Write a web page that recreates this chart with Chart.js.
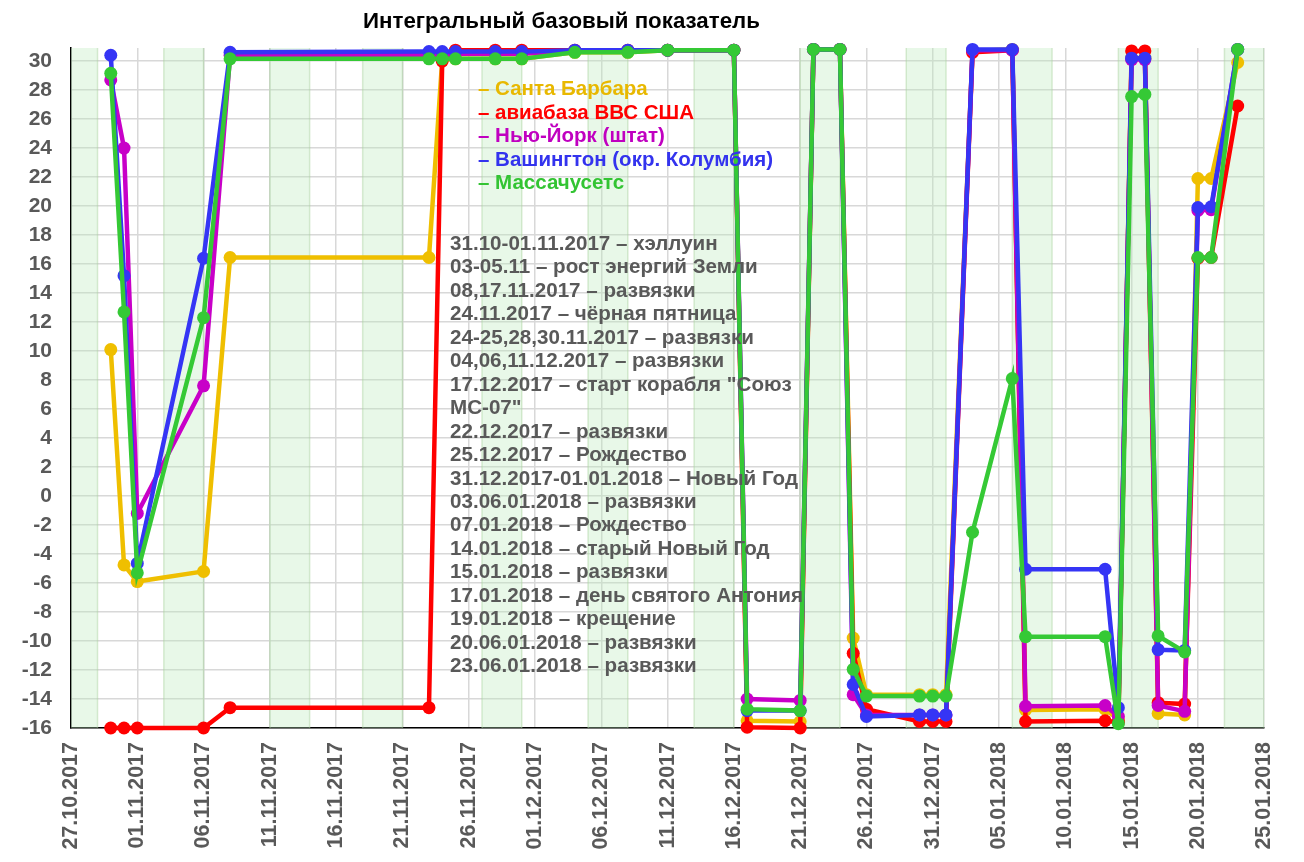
<!DOCTYPE html>
<html>
<head>
  <meta charset="utf-8">
  <title>Интегральный базовый показатель</title>
  <script src="https://cdn.jsdelivr.net/npm/chart.js"></script>
  <style>
    body {
      margin: 0;
      background: #fff;
      font-family: "Liberation Sans", Arial, sans-serif;
    }
    #wrap {
      position: relative;
      width: 1304px;
      height: 862px;
    }
    #title {
      position: absolute;
      left: 363px;
      top: 8px;
      font-size: 22.3px;
      font-weight: bold;
      color: #000;
      white-space: nowrap;
    }
    #legend {
      position: absolute;
      left: 478px;
      top: 76px;
      font-size: 20.5px;
      font-weight: bold;
      line-height: 23.5px;
      white-space: nowrap;
    }
    #notes {
      position: absolute;
      left: 450px;
      top: 231px;
      font-size: 20.6px;
      font-weight: bold;
      line-height: 23.45px;
      color: #595959;
      white-space: nowrap;
    }
  </style>
</head>
<body>
<div id="wrap">
  <canvas id="chart"></canvas>
  <div id="title">Интегральный базовый показатель</div>
  <div id="legend"></div>
  <div id="notes"></div>
</div>

<script>
  // days counted from 27.10.2017
  const days = [3, 4, 5, 10, 12, 27, 28, 29, 32, 34, 38, 42, 45, 50, 51, 55, 56, 58, 59, 60,
                64, 65, 66, 68, 71, 72, 78, 79, 80, 81, 82, 84, 85, 86, 88];

  const santaBarbara = [10.1, -4.75, -5.9, -5.2, 16.45, 16.45, 30.1, 30.15, 30.15, 30.15, 30.6, 30.6, 30.75, 30.75,
                        -15.5, -15.55, 30.8, 30.8, -9.8, -13.7, -13.7, -13.7, -13.7, 30.7, 30.8, -14.75, -14.7,
                        -15.4, 30.2, 30.2, -15.0, -15.1, 21.9, 21.9, 29.9];
  const usafBase = [-16, -16, -16, -16, -14.6, -14.6, 30.0, 30.75, 30.75, 30.75, 30.75, 30.75, 30.75, 30.75,
                    -15.95, -16, 30.8, 30.8, -10.85, -14.7, -15.55, -15.55, -15.55, 30.6, 30.75, -15.55, -15.5,
                    -15.6, 30.7, 30.7, -14.25, -14.35, 16.4, 16.45, 26.9];
  const newYork = [28.7, 24.0, -1.2, 7.6, 30.4, 30.4, 30.4, 30.5, 30.5, 30.5, 30.7, 30.7, 30.75, 30.75,
                   -14.0, -14.1, 30.8, 30.8, -13.7, -15.1, -15.1, -15.1, -15.1, 30.75, 30.75, -14.5, -14.45,
                   -15.2, 30.1, 30.1, -14.45, -14.85, 19.7, 19.75, 30.8];
  const washington = [30.4, 15.2, -4.65, 16.4, 30.6, 30.65, 30.65, 30.65, 30.65, 30.65, 30.75, 30.75, 30.75, 30.75,
                      -14.8, -14.8, 30.8, 30.8, -13.0, -15.2, -15.1, -15.1, -15.1, 30.8, 30.8, -5.05, -5.05,
                      -14.6, 30.2, 30.2, -10.6, -10.65, 19.9, 19.95, 30.8];
  const massachusetts = [29.15, 12.7, -5.3, 12.3, 30.15, 30.15, 30.15, 30.15, 30.15, 30.15, 30.6, 30.6, 30.75, 30.75,
                         -14.7, -14.8, 30.8, 30.8, -11.95, -13.8, -13.8, -13.8, -13.8, -2.5, 8.1, -9.7, -9.7,
                         -15.7, 27.55, 27.7, -9.65, -10.75, 16.45, 16.45, 30.8];

  const seriesNames = ['Санта Барбара', 'авиабаза ВВС США', 'Нью-Йорк (штат)', 'Вашингтон (окр. Колумбия)', 'Массачусетс'];
  const seriesColors = ['#efbf00', '#ff0000', '#c800c8', '#3535f5', '#35c935'];
  const textColors = ['#e8b800', '#ff0000', '#c000c0', '#3333ee', '#33c433'];

  // shaded periods, in days from 27.10.2017
  const bandStarts = [-1, 7, 15, 22, 31, 39, 47, 55, 63, 71, 79, 87];
  const bandEnds = [2, 10, 18, 25, 34, 42, 50, 58, 66, 74, 82, 90];

  const xTickDays = [0, 5, 10, 15, 20, 25, 30, 35, 40, 45, 50, 55, 60, 65, 70, 75, 80, 85, 90];
  const xTickLabels = ['27.10.2017', '01.11.2017', '06.11.2017', '11.11.2017', '16.11.2017', '21.11.2017',
                       '26.11.2017', '01.12.2017', '06.12.2017', '11.12.2017', '16.12.2017', '21.12.2017',
                       '26.12.2017', '31.12.2017', '05.01.2018', '10.01.2018', '15.01.2018', '20.01.2018', '25.01.2018'];
  const yTicks = [-16, -14, -12, -10, -8, -6, -4, -2, 0, 2, 4, 6, 8, 10, 12, 14, 16, 18, 20, 22, 24, 26, 28, 30];

  const notes = [
    '31.10-01.11.2017 – хэллуин',
    '03-05.11 – рост энергий Земли',
    '08,17.11.2017 – развязки',
    '24.11.2017 – чёрная пятница',
    '24-25,28,30.11.2017 – развязки',
    '04,06,11.12.2017 – развязки',
    '17.12.2017 – старт корабля "Союз',
    'МС-07"',
    '22.12.2017 – развязки',
    '25.12.2017 – Рождество',
    '31.12.2017-01.01.2018 – Новый Год',
    '03.06.01.2018 – развязки',
    '07.01.2018 – Рождество',
    '14.01.2018 – старый Новый Год',
    '15.01.2018 – развязки',
    '17.01.2018 – день святого Антония',
    '19.01.2018 – крещение',
    '20.06.01.2018 – развязки',
    '23.06.01.2018 – развязки'
  ];

  document.getElementById('legend').innerHTML = seriesNames
    .map((n, i) => `<div style="color:${textColors[i]}">– ${n}</div>`).join('');
  document.getElementById('notes').innerHTML = notes.map(n => `<div>${n}</div>`).join('');

  const allValues = [santaBarbara, usafBase, newYork, washington, massachusetts];
  const drawOrder = [4, 3, 2, 1, 0];

  const datasets = allValues.map((vals, i) => ({
    label: seriesNames[i],
    data: days.map((d, k) => ({ x: d, y: vals[k] })),
    borderColor: seriesColors[i],
    backgroundColor: seriesColors[i],
    borderWidth: 4.5,
    pointRadius: 6.5,
    pointBorderWidth: 0,
    pointHoverRadius: 6.5,
    tension: 0,
    clip: false,
    order: drawOrder[i]
  }));

  const bandPlugin = {
    id: 'bands',
    beforeDatasetsDraw(chart) {
      const { ctx, chartArea, scales } = chart;
      ctx.save();
      ctx.beginPath();
      ctx.rect(chartArea.left, chartArea.top, chartArea.right - chartArea.left, chartArea.bottom - chartArea.top);
      ctx.clip();
      bandStarts.forEach((s, i) => {
        const x1 = scales.x.getPixelForValue(s);
        const x2 = scales.x.getPixelForValue(bandEnds[i]);
        ctx.fillStyle = 'rgba(190, 235, 190, 0.35)';
        ctx.fillRect(x1, chartArea.top, x2 - x1, chartArea.bottom - chartArea.top);
        ctx.strokeStyle = 'rgba(170, 210, 160, 0.45)';
        ctx.lineWidth = 1.5;
        ctx.beginPath();
        ctx.moveTo(x1, chartArea.top); ctx.lineTo(x1, chartArea.bottom);
        ctx.moveTo(x2, chartArea.top); ctx.lineTo(x2, chartArea.bottom);
        ctx.stroke();
      });
      ctx.restore();
    }
  };

  Chart.defaults.font.family = '"Liberation Sans", Arial, sans-serif';

  new Chart(document.getElementById('chart'), {
    type: 'line',
    data: { datasets },
    plugins: [bandPlugin],
    options: {
      responsive: true,
      maintainAspectRatio: false,
      animation: false,
      layout: { padding: { left: 0, right: 38, top: 48, bottom: 0 } },
      plugins: {
        legend: { display: false },
        tooltip: { enabled: false },
        title: { display: false }
      },
      scales: {
        x: {
          type: 'linear',
          min: 0,
          max: 90,
          afterBuildTicks: s => { s.ticks = xTickDays.map(v => ({ value: v })); },
          afterFit: s => { s.height = 134; },
          grid: { color: '#d8d8d8', lineWidth: 1.5, drawTicks: false },
          border: { color: '#000', width: 1.5 },
          ticks: {
            color: '#595959',
            font: { size: 21.5, weight: 'bold' },
            minRotation: 90,
            maxRotation: 90,
            padding: 14,
            autoSkip: false,
            callback: v => xTickLabels[xTickDays.indexOf(v)]
          }
        },
        y: {
          min: -16,
          max: 30.9,
          afterBuildTicks: s => { s.ticks = yTicks.map(v => ({ value: v })); },
          afterFit: s => { s.width = 71; },
          grid: { color: '#d8d8d8', lineWidth: 1.5, drawTicks: false },
          border: { color: '#000', width: 1.5 },
          ticks: {
            color: '#595959',
            font: { size: 21, weight: 'bold' },
            padding: 19
          }
        }
      }
    }
  });
</script>
</body>
</html>
